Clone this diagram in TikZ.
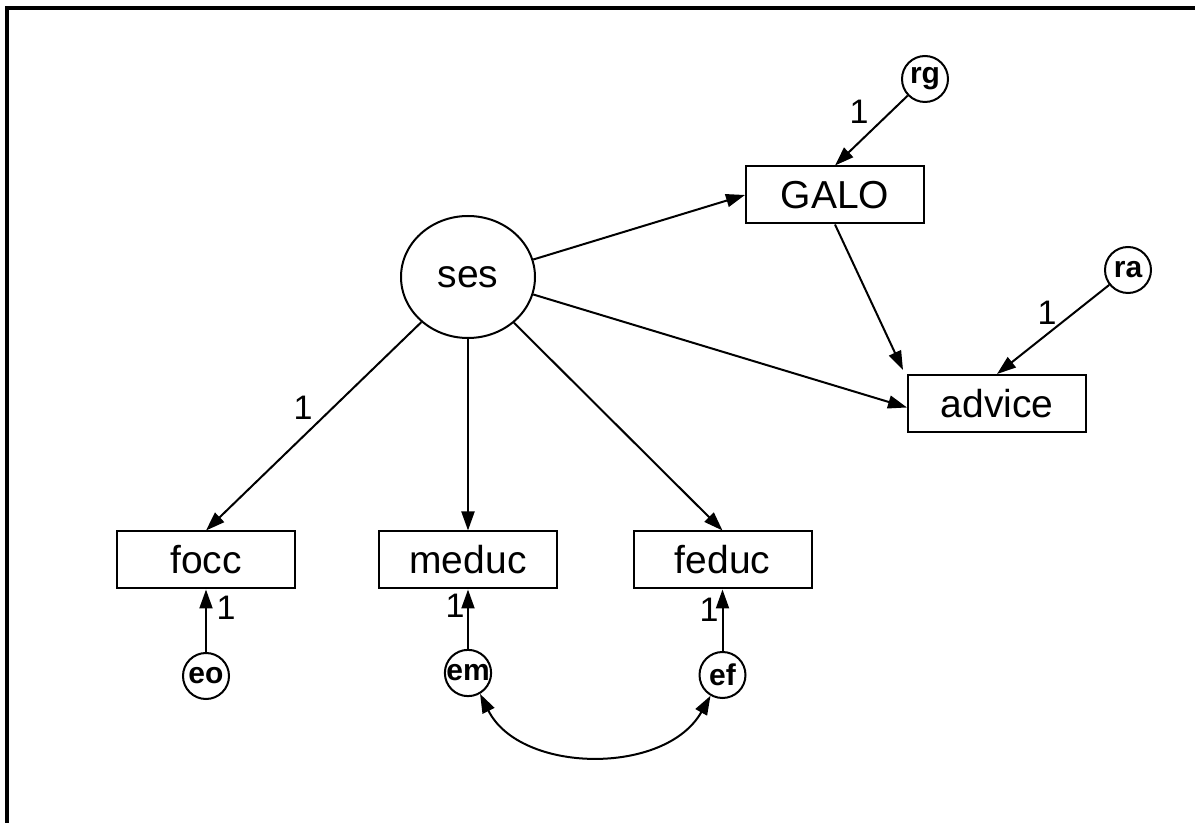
\documentclass[tikz,border=0pt]{standalone}
\usepackage{fontspec}
\setmainfont{Liberation Sans}
\usetikzlibrary{arrows.meta,shapes.geometric}

\tikzset{
  observed/.style={draw, line width=1pt, rectangle, minimum width=89pt, minimum height=28.5pt,
    inner sep=0pt, font=\fontsize{19.5}{22}\selectfont},
  latent/.style={draw, line width=1pt, ellipse, minimum width=67pt, minimum height=61pt,
    inner sep=0pt, font=\fontsize{19.5}{22}\selectfont},
  resid/.style={draw, line width=1pt, circle, minimum size=23pt, inner sep=0pt,
    font=\fontsize{15}{17}\selectfont\bfseries},
  tip/.style={Triangle[length=9.5pt,width=6.5pt]},
  path/.style={line width=1pt, -{Triangle[length=9.5pt,width=6.5pt]}},
  cov/.style={line width=1pt, {Triangle[length=9.5pt,width=6.5pt]}-{Triangle[length=9.5pt,width=6.5pt]}},
  wlabel/.style={inner sep=0pt, font=\fontsize{17}{19}\selectfont},
  frameline/.style={line width=1.6pt}
}

\begin{document}
\begin{tikzpicture}[x=0.5pt, y=-0.5pt]
  \useasboundingbox (0,0) rectangle (1195,823);

  % outer frame (top and left edges)
  \draw[frameline] (7,823) -- (7,8) -- (1195,8);

  % latent variable and observed measures
  \node[latent]   (ses)    at (468,277)   {ses};
  \node[observed] (galo)   at (835,195)   {GALO};
  \node[observed] (advice) at (997,403.5) {advice};
  \node[observed] (focc)   at (206,560)   {focc};
  \node[observed] (meduc)  at (468,560)   {meduc};
  \node[observed] (feduc)  at (722.5,560) {feduc};

  % residual terms
  \node[resid] (rg) at (925,79)    {rg};
  \node[resid] (ra) at (1128,270)  {ra};
  \node[resid] (eo) at (206,676)   {eo};
  \node[resid] (em) at (468,673)   {em};
  \node[resid] (ef) at (722.5,675) {ef};

  % structural paths
  \draw[path] (ses.15) -- (galo.west);
  \draw[path] (ses.-15) -- ([yshift=-2pt]advice.west);
  \draw[path] (galo.south) -- ([shift={(-2pt,2pt)}]advice.north west);

  % loadings
  \draw[path] (ses) -- (focc.north);
  \draw[path] (ses) -- (meduc.north);
  \draw[path] (ses) -- (feduc.north);

  % residual paths
  \draw[path] (rg) -- (galo.north);
  \draw[path] (ra) -- (advice.north);
  \draw[path] (eo) -- (focc);
  \draw[path] (em) -- (meduc);
  \draw[path] (ef) -- (feduc);

  % residual covariance
  \draw[cov] (em.-60) .. controls +(40,80) and +(-45,80) .. (ef.-120);

  % fixed weights
  \node[wlabel] (wrg)   at (859,112) {1};
  \node[wlabel] (wra)   at (1047,313) {1};
  \node[wlabel] (wfocc) at (303,408) {1};
  \node[wlabel] (weo)   at (226,608) {1};
  \node[wlabel] (wem)   at (455,606) {1};
  \node[wlabel] (wef)   at (709,610) {1};
\end{tikzpicture}
\end{document}
